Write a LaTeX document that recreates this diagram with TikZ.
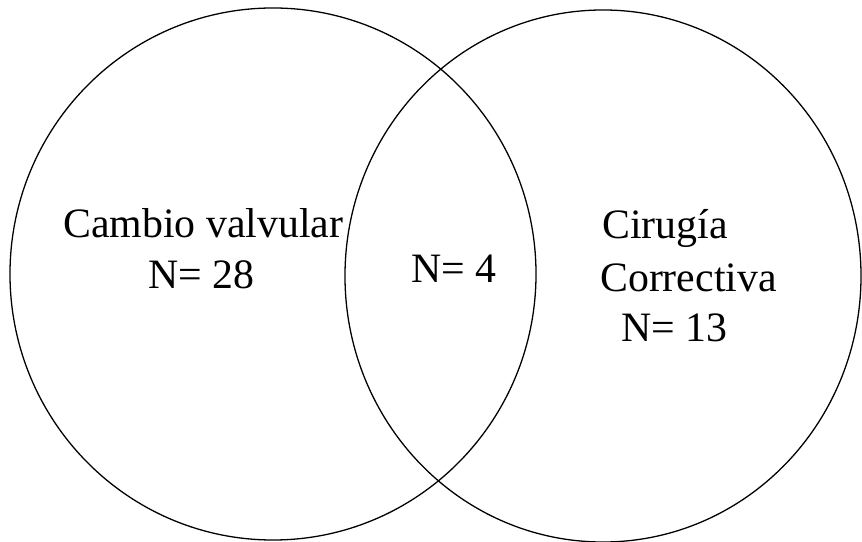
\documentclass[tikz,border=0pt]{standalone}
\usepackage{fontspec}
\setmainfont{Liberation Serif}
\usetikzlibrary{positioning}
\tikzset{
  setline/.style={line width=1.1pt},
  lbl/.style={anchor=base west,inner sep=0pt,font=\fontsize{35.7}{42}\selectfont}
}
\begin{document}
\begin{tikzpicture}[x=0.03cm,y=-0.03cm]
\useasboundingbox (0,0) rectangle (862,542);
% the two sets
\draw[setline] (273,274) ellipse[x radius=7.89cm,y radius=7.98cm];
\draw[setline] (603,276) ellipse[x radius=7.74cm,y radius=7.98cm];
% labels
\node[lbl] (valv) at (63,238) {Cambio valvular};
\node[lbl] (nvalv) at (148,289) {N= 28};
\node[lbl] (nboth) at (411,283) {N= 4};
\node[lbl] (cir) at (602,239) {Cirugía};
\node[lbl] (corr) at (600,292) {Correctiva};
\node[lbl] (ncorr) at (621,342) {N= 13};
\end{tikzpicture}
\end{document}
